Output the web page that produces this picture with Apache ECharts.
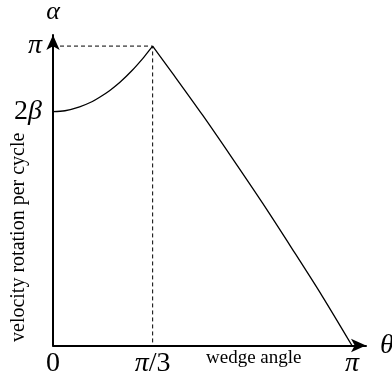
<!DOCTYPE html>
<html>
<head>
<meta charset="utf-8">
<style>
  html, body { margin: 0; padding: 0; background: #fff; }
  #chart { width: 392px; height: 384px; }
</style>
<script src="https://cdn.jsdelivr.net/npm/echarts@6/dist/echarts.min.js"></script>
</head>
<body>
<div id="chart"></div>
<script>
// Angles are expressed in units of π (θ/π, α/π).

// Rising branch: 0 ≤ θ ≤ π/3, starting at α = 2β
const thetaRise = [0, 0.04, 0.089, 0.13, 0.156, 0.189, 0.223, 0.266, 0.3, 0.312, 1 / 3];
const alphaRise = [0.781, 0.784, 0.797, 0.814, 0.829, 0.851, 0.878, 0.920, 0.958, 0.973, 1.0];

// Falling branch: π/3 ≤ θ ≤ π
const thetaFall = [1 / 3, 0.4, 0.5, 0.6, 0.7, 0.8, 0.9, 1.0];
const alphaFall = [1.0, 0.909, 0.770, 0.625, 0.477, 0.323, 0.166, 0.0];

// Guide lines through the peak (π/3, π)
const guideTheta = [0, 1 / 3, 1 / 3];
const guideAlpha = [1, 1, 0];

// Tick values and their labels
const xTickValues = [0, 1 / 3, 1];
const xTickLabels = ['0', '{i|π}/3', '{i|π}'];
const yTickValues = [0.781, 1];
const yTickLabels = ['2{i|β}', '{i|π}'];

const zip = (a, b) => a.map((v, i) => [v, b[i]]);
const pick = (values, labels) => (v) => {
  let best = 0;
  values.forEach((t, i) => { if (Math.abs(t - v) < Math.abs(values[best] - v)) best = i; });
  return labels[best];
};

const serif = '"Liberation Serif", "DejaVu Serif", serif';
const mathRich = {
  i: { fontFamily: serif, fontStyle: 'italic', fontSize: 28, color: '#000' }
};

const chart = echarts.init(document.getElementById('chart'), null, { renderer: 'canvas' });
chart.setOption({
  animation: false,
  backgroundColor: '#fff',
  grid: { left: 53, top: 35, width: 313, height: 310.5, containLabel: false, outerBoundsMode: 'none' },
  xAxis: {
    type: 'value',
    min: 0,
    max: 1.047,
    name: 'θ',
    nameLocation: 'end',
    nameGap: 14,
    nameTextStyle: { fontFamily: serif, fontStyle: 'italic', fontSize: 28, color: '#000', align: 'left', verticalAlign: 'middle' },
    axisLine: { show: true, lineStyle: { color: '#000', width: 2 }, symbol: ['none', 'arrow'], symbolSize: [10, 15] },
    axisTick: { show: false },
    splitLine: { show: false },
    axisLabel: {
      customValues: xTickValues,
      formatter: pick(xTickValues, xTickLabels),
      margin: 4,
      fontFamily: serif,
      fontSize: 28,
      color: '#000',
      rich: mathRich
    }
  },
  yAxis: {
    type: 'value',
    min: 0,
    max: 1.037,
    name: 'α',
    nameLocation: 'end',
    nameGap: 10,
    nameTextStyle: { fontFamily: serif, fontStyle: 'italic', fontSize: 26, color: '#000' },
    axisLine: { show: true, lineStyle: { color: '#000', width: 2 }, symbol: ['none', 'arrow'], symbolSize: [10, 15] },
    axisTick: { show: false },
    splitLine: { show: false },
    axisLabel: {
      customValues: yTickValues,
      formatter: pick(yTickValues, yTickLabels),
      margin: 11,
      fontFamily: serif,
      fontSize: 28,
      color: '#000',
      rich: mathRich
    }
  },
  graphic: [
    {
      type: 'text',
      left: 206,
      top: 349,
      style: { text: 'wedge angle', font: '19px ' + serif, fill: '#000' }
    },
    {
      type: 'text',
      x: 9,
      y: 342,
      rotation: Math.PI / 2,
      style: { text: 'velocity rotation per cycle', font: '20px ' + serif, fill: '#000', verticalAlign: 'top' }
    }
  ],
  series: [
    {
      type: 'line',
      data: zip(guideTheta, guideAlpha),
      symbol: 'none',
      silent: true,
      z: 1,
      lineStyle: { color: '#000', width: 1, type: [4, 3] }
    },
    {
      type: 'line',
      data: zip(thetaRise, alphaRise),
      symbol: 'none',
      smooth: 0.3,
      z: 2,
      lineStyle: { color: '#000', width: 1.3 }
    },
    {
      type: 'line',
      data: zip(thetaFall, alphaFall),
      symbol: 'none',
      smooth: 0.3,
      z: 2,
      lineStyle: { color: '#000', width: 1.3 }
    }
  ]
});
</script>
</body>
</html>
